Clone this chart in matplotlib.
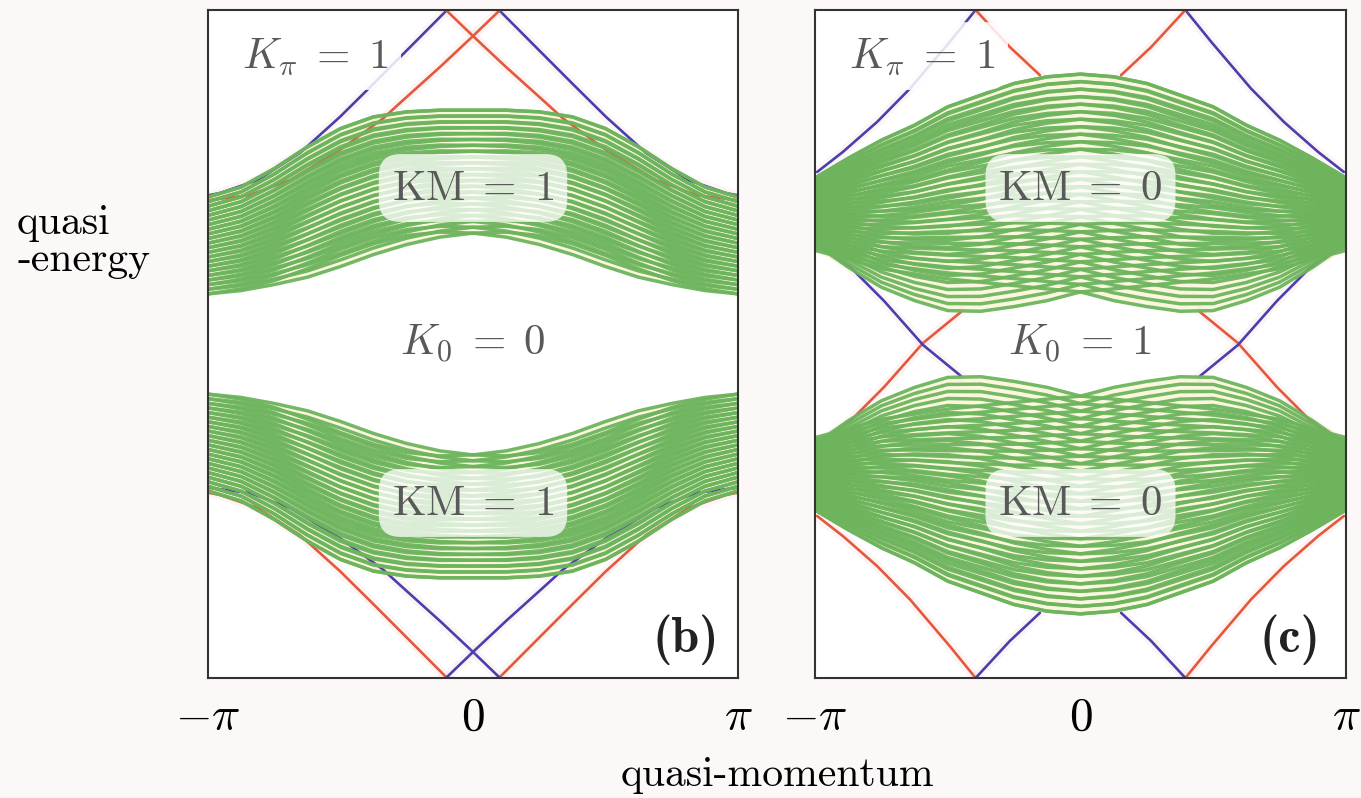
import numpy as np
import matplotlib.pyplot as plt

plt.rcParams['mathtext.fontset'] = 'cm'

# all values in units of pi (quasi-momentum k, quasi-energy E)
k_grid = [-1, -0.875, -0.75, -0.625, -0.5, -0.375, -0.25, -0.125, 0,
          0.125, 0.25, 0.375, 0.5, 0.625, 0.75, 0.875, 1]

# panel (b), upper bulk band: top edge and skewed lower edge
b_top = [0.44, 0.47, 0.525, 0.59, 0.645, 0.68, 0.695, 0.70, 0.70,
         0.70, 0.695, 0.68, 0.645, 0.59, 0.525, 0.47, 0.44]
b_low = [0.150, 0.160, 0.178, 0.200, 0.232, 0.268, 0.298, 0.320, 0.332,
         0.335, 0.325, 0.300, 0.265, 0.225, 0.190, 0.165, 0.150]

# panel (c), upper bulk band
c_top = [0.497, 0.556, 0.61, 0.655, 0.71, 0.745, 0.78, 0.80, 0.808,
         0.80, 0.78, 0.745, 0.71, 0.655, 0.61, 0.556, 0.497]
c_low = [0.28, 0.255, 0.225, 0.21, 0.195, 0.185, 0.175, 0.165, 0.156,
         0.13, 0.112, 0.098, 0.10, 0.13, 0.17, 0.23, 0.30]

# edge states near E = pi (left branches, right side is the mirror k -> -k)
b_outer_k = [-1.0, -0.955, -0.815, -0.653, -0.502, -0.377, -0.226, -0.098]
b_outer_E = [0.445, 0.452, 0.490, 0.572, 0.680, 0.778, 0.898, 1.0]
b_inner_k = [0.102, 0.0, -0.125, -0.275, -0.34, -0.502, -0.69, -0.842, -0.992]
b_inner_E = [1.0, 0.922, 0.829, 0.722, 0.675, 0.581, 0.491, 0.446, 0.431]

c_outer_k = [-0.992, -0.895, -0.766, -0.642, -0.492, -0.395]
c_outer_E = [0.515, 0.575, 0.665, 0.765, 0.905, 1.0]
c_inner_k = [-0.395, -0.266, -0.153]
c_inner_E = [1.0, 0.889, 0.805]

# edge states in the gap around E = 0, panel (c)
c_mid_k = [0.45, 0.593, 0.74, 0.864, 1.0]
c_mid_E = [0.096, 0.003, -0.129, -0.228, -0.305]

RED = '#e4593b'
BLUE = '#4a3fae'
GREEN = '#6db45d'
CREAM = '#fbf7df'
TXT = '#595959'


def edge(ax, ks, Es, color):
    ks = np.array(ks)
    Es = np.array(Es)
    for kk in (ks, -ks):
        ax.plot(kk, Es, color='#f3a0a0', lw=7, alpha=0.10, zorder=2)
        ax.plot(kk, Es, color=color, lw=1.9, zorder=2,
                solid_joinstyle='round', solid_capstyle='round')


def band(ax, top, low, n, sign):
    k = np.array(k_grid)
    top = np.array(top)
    low = np.array(low)
    low_m = low[::-1]
    ax.fill_between(k, sign * np.minimum(low, low_m), sign * top,
                    color=CREAM, lw=0, zorder=1)
    for f in np.linspace(0, 1, n):
        for lo in (low, low_m):
            ax.plot(k, sign * (lo + f * (top - lo)), color=GREEN, lw=2.5,
                    alpha=0.95, solid_joinstyle='round', zorder=3)


def label(ax, x, y, s, size=31, box=0.75):
    ax.text(x, y, s, ha='center', va='center', fontsize=size, color=TXT, zorder=6,
            bbox=dict(boxstyle='round,pad=0.3,rounding_size=0.5', fc='white',
                      ec='none', alpha=box))


fig = plt.figure(figsize=(13.61, 7.98), dpi=100)
fig.patch.set_facecolor('#fcf8f8')
ax_b = fig.add_axes([208 / 1361, 1 - 678 / 798, 530 / 1361, 668 / 798])
ax_c = fig.add_axes([815 / 1361, 1 - 678 / 798, 531 / 1361, 668 / 798])

# panel (b)
band(ax_b, b_top, b_low, 22, 1)
band(ax_b, b_top, b_low, 22, -1)
edge(ax_b, b_outer_k, b_outer_E, BLUE)
edge(ax_b, b_inner_k, b_inner_E, RED)
edge(ax_b, b_outer_k, -np.array(b_outer_E), RED)
edge(ax_b, b_inner_k, -np.array(b_inner_E), BLUE)
label(ax_b, -0.596, 0.862, r'$K_\pi \;=\; 1$', box=0.85)
label(ax_b, 0, 0.467, r'$\mathrm{KM} \;=\; 1$')
label(ax_b, 0, 0.0, r'$K_0 \;=\; 0$', box=0.9)
label(ax_b, 0, -0.476, r'$\mathrm{KM} \;=\; 1$')
ax_b.text(0.804, -0.886, '(b)', ha='center', va='center', fontsize=36,
          family='cmb10', color='#222222', zorder=6)

# panel (c)
band(ax_c, c_top, c_low, 30, 1)
band(ax_c, c_top, c_low, 30, -1)
edge(ax_c, c_outer_k, c_outer_E, BLUE)
edge(ax_c, c_inner_k, c_inner_E, RED)
edge(ax_c, c_outer_k, -np.array(c_outer_E), RED)
edge(ax_c, c_inner_k, -np.array(c_inner_E), BLUE)
edge(ax_c, c_mid_k, c_mid_E, RED)
edge(ax_c, c_mid_k, -np.array(c_mid_E), BLUE)
label(ax_c, -0.597, 0.862, r'$K_\pi \;=\; 1$', box=0.85)
label(ax_c, 0, 0.467, r'$\mathrm{KM} \;=\; 0$')
label(ax_c, 0, 0.0, r'$K_0 \;=\; 1$', box=0.9)
label(ax_c, 0, -0.476, r'$\mathrm{KM} \;=\; 0$')
ax_c.text(0.789, -0.886, '(c)', ha='center', va='center', fontsize=36,
          family='cmb10', color='#222222', zorder=6)

for ax in (ax_b, ax_c):
    ax.set_xlim(-1, 1)
    ax.set_ylim(-1, 1)
    ax.set_facecolor('white')
    ax.set_xticks([-1, 0, 1])
    ax.set_xticklabels([r'$-\pi$', r'$0$', r'$\pi$'], fontsize=34)
    ax.set_yticks([])
    ax.tick_params(axis='x', length=0, pad=12)
    for sp in ax.spines.values():
        sp.set_color('#333333')
        sp.set_linewidth(1.5)
        sp.set_zorder(10)

fig.text(17 / 1361, 1 - 242 / 798, 'quasi\n-energy', ha='left', va='center',
         family='cmr10', fontsize=30, linespacing=1.0)
fig.text(777 / 1361, 1 - 775 / 798, 'quasi-momentum', ha='center', va='center',
         family='cmr10', fontsize=30)

fig.savefig('out.png', dpi=100, facecolor=fig.get_facecolor())
